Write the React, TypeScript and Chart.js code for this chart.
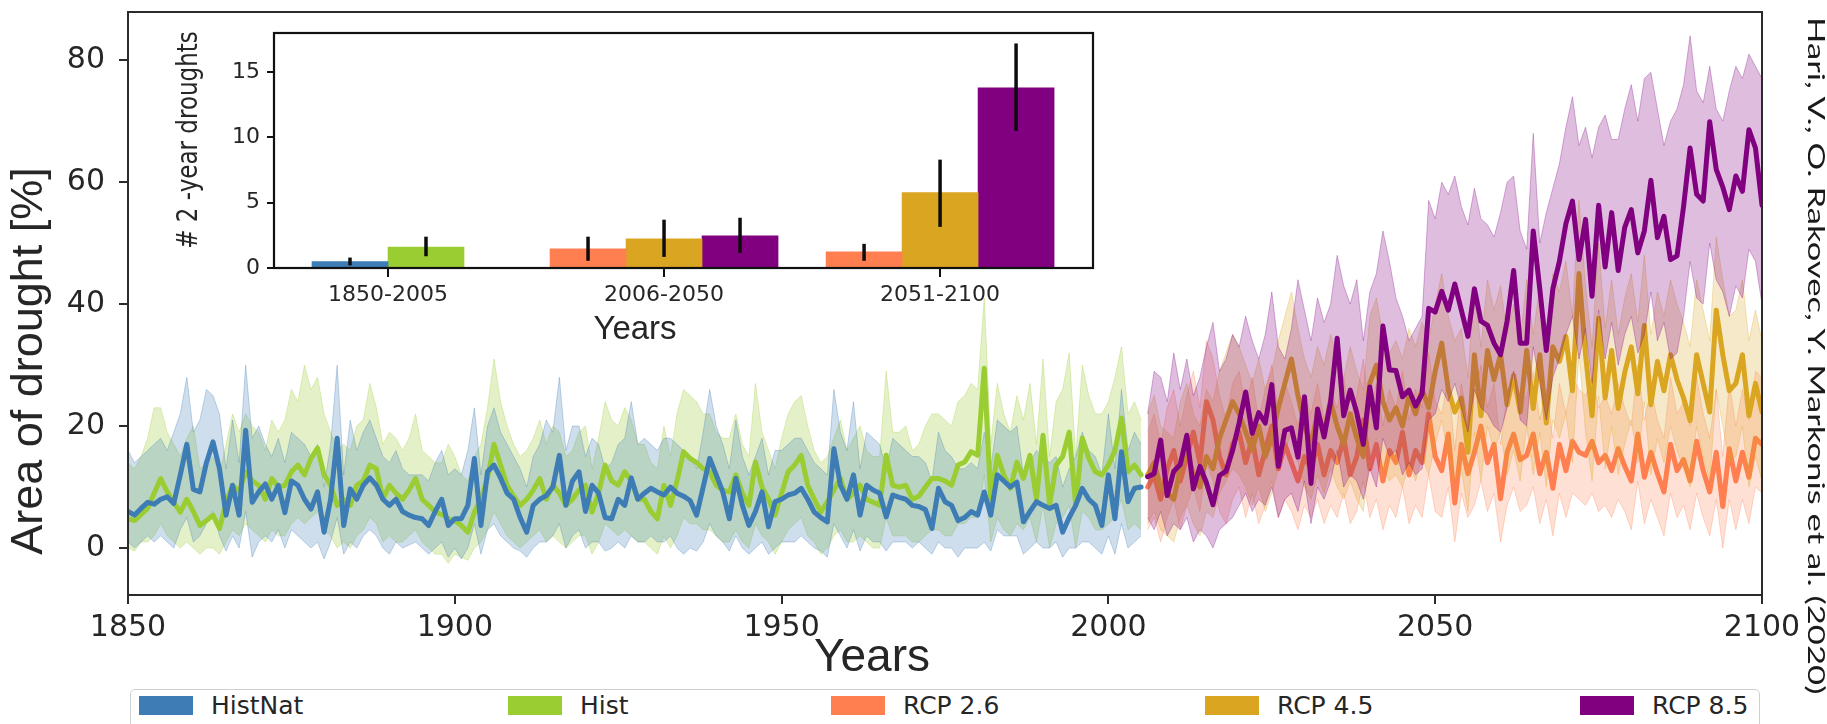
import React, { useEffect, useRef, useState } from 'react';
import { Chart, registerables } from 'chart.js';

Chart.register(...registerables);

// ---------------- DATA ----------------
const HIST_START = 1850;
const RCP_START = 2006;
const X_TICKS = [1850, 1900, 1950, 2000, 2050, 2100];
const Y_TICKS = [0, 20, 40, 60, 80];

const SERIES_NAMES = ['HistNat', 'Hist', 'RCP 2.6', 'RCP 4.5', 'RCP 8.5'];
const SERIES_COLORS = ['#3d7cb5', '#9acd32', '#ff7f50', '#daa520', '#800080'];

// HistNat 1850-2005
const HISTNAT_MEAN = [
  6, 5.4, 6.5, 7.5, 7.2, 8, 8.4, 7.3, 12, 17,
  9.6, 9.2, 14, 17.4, 13, 5.4, 10.3, 5.4, 19.3, 7.5,
  9.2, 10.5, 8, 10.3, 5.8, 11, 10.3, 8, 6.4, 9.2,
  2.6, 8, 18, 3.7, 9.7, 8, 10.3, 11.5, 10.3, 8,
  7, 8, 6, 5.4, 5, 4.8, 3.7, 6, 8, 3.7,
  4.8, 4.8, 7, 14.7, 3.7, 12.5, 13.6, 11.5, 9, 8,
  5, 2.6, 7, 8, 8.6, 10, 15.2, 7, 11, 12.5,
  6, 10.3, 9, 5, 4.8, 8, 7, 11.5, 8, 9,
  9.8, 9.2, 8.7, 10, 9, 8.5, 7.8, 5.4, 10, 14.7,
  12, 9.2, 4.8, 11.4, 7, 3.7, 6, 9.2, 3.5, 7.6,
  8, 8.7, 9, 9.8, 8, 5.9, 5, 4.3, 16.3, 10.3,
  8, 12, 5.4, 10.3, 9.5, 9, 5.1, 8.7, 8.3, 8,
  7, 6.8, 6.3, 3.2, 9.8, 7.6, 7, 4.5, 5, 6,
  5.4, 9.2, 5.4, 12, 11, 10, 10.8, 4.3, 6, 7.6,
  7, 6.5, 7, 2.6, 5, 7, 9.8, 8, 7, 3.7,
  12, 4.8, 15.8, 7.6, 9.8, 10,
];
const HISTNAT_HIGH = [
  16, 14, 15, 16, 17, 18, 16, 19, 22, 28,
  19, 21, 26, 25, 22, 13, 21, 14, 30, 18,
  20, 17, 15, 18, 14, 19, 18, 17, 15, 17,
  10, 17, 30, 12, 21, 16, 19, 21, 18, 15,
  14, 16, 13, 12, 12, 12, 11, 14, 16, 12,
  13, 12, 16, 23, 12, 20, 23, 19, 17, 15,
  13, 10, 15, 17, 21, 19, 28, 16, 20, 20,
  15, 18, 17, 13, 14, 17, 18, 24, 17, 18,
  17, 16, 18, 18, 17, 16, 15, 13, 19, 26,
  20, 17, 13, 21, 15, 12, 15, 18, 12, 16,
  16, 17, 18, 18, 16, 14, 13, 12, 26, 19,
  16, 24, 13, 19, 18, 17, 13, 18, 17, 16,
  15, 15, 14, 11, 19, 16, 15, 13, 13, 14,
  13, 19, 13, 21, 20, 19, 20, 12, 14, 16,
  15, 14, 15, 10, 13, 15, 19, 16, 15, 12,
  22, 13, 26, 16, 19, 17,
];
const HISTNAT_LOW = [
  1, 0, 1, 2, 1, 2, 1, 0, 3, 5,
  1, 2, 4, 6, 2, -0.5, 2, 0, 6, -1.5,
  1, 2, 1, 3, 0, 3, 2, 1, 0, 1,
  -1.8, 1, 5, -1, 1, 0, 2, 3, 2, 0,
  -1, 1, 0, 0.5, 1, 0, -1, 0, 1, -1.5,
  0, -1.8, 0, 4, -1, 3, 4, 2, 1, 0,
  -0.5, -1.5, 0, 1, 1, 2, 4, 0, 2, 3,
  0, 1, 1, -0.5, 0, 1, 0, 2, 1, 1,
  2, 1, 1, 2, 0, -1, 0, -0.5, 1, 4,
  2, 1, -0.5, 2, 0, -1, 0, 1, -1, 0,
  1, 1, 1, 2, 1, 0, -0.5, -1.5, 4, 2,
  0, 3, -0.5, 2, 1, 1, -0.5, 1, 1, 1,
  0, 1, 0, -1, 1, 0, 0, -1.5, 0, 0,
  0, 1, -0.5, 3, 2, 2, 2, -1, 0, 1,
  0, 0, 1, -1.5, 0, 0, 1, 1, 0, -1,
  2, -1, 4, 0, 1, 2,
];

// Hist 1850-2005
const HIST_MEAN = [
  4.8, 4.5, 5.5, 6.5, 9, 11.4, 9.2, 7.5, 5.9, 8,
  6, 3.7, 4.5, 5.4, 3.2, 7.5, 10.3, 9.2, 12.5, 11,
  10.3, 8, 11.4, 10, 10.3, 12.5, 13.6, 12, 14.7, 16.4,
  12, 10.3, 7, 8, 7, 10.3, 11, 13.6, 13, 8,
  10.3, 9, 8, 9.5, 11.4, 8, 7, 5.9, 5.5, 4.8,
  4.5, 3.7, 2.6, 5.9, 8, 11.4, 17, 13.6, 10.3, 8.5,
  7, 8, 9.5, 11.4, 8, 10.3, 9, 7, 8, 9.5,
  10.3, 5.9, 9, 13.6, 11, 10.3, 12.5, 11, 8, 8,
  6, 4.8, 10.3, 7, 11, 15.8, 14.7, 14, 13, 12.5,
  10.3, 9.5, 9.2, 12, 9, 7, 14.1, 10, 8, 5.4,
  9, 12.5, 13.6, 15.2, 10.3, 8, 5.9, 7.6, 9.5, 11.4,
  8, 9, 10.3, 8, 7.5, 7, 15.2, 10.3, 10, 10.3,
  8, 8.5, 10, 11.4, 11.4, 11, 10.3, 13.6, 14.1, 15.8,
  15.2, 29.5, 8, 15.2, 12, 9.8, 14.1, 11.4, 15.2, 8,
  18.5, 7, 13.6, 15, 19, 7, 18, 14.7, 12.5, 12,
  13.6, 16, 21.3, 12.5, 13.6, 12,
];
const HIST_HIGH = [
  14, 13, 15, 18, 23, 23, 19, 17, 15, 18,
  20, 13, 14, 15, 12, 17, 22, 19, 22, 20,
  19, 16, 21, 19, 21, 26, 24, 30, 26, 28,
  22, 19, 16, 17, 16, 20, 21, 27, 23, 17,
  19, 18, 16, 18, 22, 16, 15, 14, 14, 17,
  15, 12, 11, 15, 17, 23, 31, 24, 20, 17,
  15, 16, 18, 21, 17, 20, 19, 15, 16, 19,
  20, 13, 18, 24, 21, 20, 23, 21, 17, 17,
  14, 13, 20, 15, 22, 26, 25, 24, 22, 22,
  19, 18, 18, 22, 17, 15, 27, 19, 16, 13,
  18, 22, 24, 25, 20, 16, 14, 15, 18, 21,
  16, 18, 20, 16, 15, 15, 29, 19, 19, 20,
  16, 17, 20, 22, 22, 21, 20, 24, 25, 27,
  26, 41, 17, 27, 22, 19, 25, 21, 27, 17,
  31, 15, 24, 26, 32, 15, 30, 25, 22, 22,
  24, 28, 33, 22, 24, 21,
];
const HIST_LOW = [
  0, -0.5, 1, 1, 2, 4, 2, 1, 0, 1,
  0, -1, 0, 0, -1, 1, 3, 2, 4, 3,
  2, 1, 3, 2, 2, 4, 5, 4, 5, 6,
  3, 2, 0, 1, 0, 2, 3, 5, 4, 1,
  2, 1, 1, 2, 3, 1, 0, -1, -1, -2.5,
  -1, -1.5, -2, 0, 1, 3, 6, 4, 2, 1,
  0, 1, 2, 3, 1, 2, 1, 0, 1, 2,
  2, -1, 1, 4, 3, 2, 3, 2, 1, 1,
  0, -1, 2, 0, 2, 5, 4, 4, 3, 3,
  2, 1, 1, 3, 1, 0, 4, 2, 1, -1,
  1, 3, 4, 5, 2, 1, -1, 0, 2, 3,
  1, 1, 2, 1, 0, 0, 5, 2, 2, 2,
  1, 1, 2, 3, 3, 2, 2, 4, 4, 5,
  5, 12, 1, 5, 3, 2, 4, 3, 5, 1,
  7, 0, 4, 5, 7, 0, 6, 5, 3, 3,
  4, 5, 8, 3, 4, 3,
];

// RCP 2.6 2006-2100
const RCP26_MEAN = [
  10, 12, 8, 13,
  16, 11, 15, 19, 14, 24, 21, 15, 12, 17,
  19, 14, 18, 12, 16, 20, 13, 17, 14, 11,
  15, 13, 17, 12, 16, 14, 18, 12, 15, 21,
  13, 17, 11, 16, 14, 19, 12, 16, 14, 22,
  15, 12.7, 18.7, 7.4, 17, 12.2, 15.7, 20, 14, 17,
  8.1, 15.7, 18.7, 14.5, 15.2, 18.7, 12.2, 15.7, 9.8, 17,
  12.7, 17.5, 15.7, 15.2, 17.5, 14, 15.2, 12.7, 16.3, 13.4,
  11, 18.7, 11.6, 15.7, 12.2, 9.2, 17, 12.7, 14.5, 11,
  17.5, 12.7, 9.2, 15.7, 6.8, 16.3, 11, 15.7, 11.6, 18,
  17,
];
const RCP26_HIGH = [
  19, 22, 17, 23,
  26, 20, 25, 29, 23, 34, 31, 25, 21, 27,
  29, 23, 28, 21, 26, 30, 22, 27, 24, 20,
  25, 22, 27, 21, 26, 23, 28, 21, 25, 31,
  22, 27, 20, 26, 23, 29, 21, 26, 23, 32,
  24, 22, 28, 16, 27, 21, 25, 30, 23, 27,
  17, 25, 29, 24, 25, 29, 21, 26, 18, 27,
  22, 28, 26, 25, 28, 23, 25, 22, 27, 23,
  20, 30, 21, 26, 21, 18, 28, 22, 24, 20,
  28, 22, 18, 26, 15, 27, 20, 26, 21, 29,
  28,
];
const RCP26_LOW = [
  3, 5, 1, 5,
  8, 3, 7, 10, 6, 14, 11, 6, 4, 8,
  10, 5, 9, 4, 7, 11, 5, 8, 6, 3,
  7, 5, 8, 4, 7, 5, 9, 4, 6, 11,
  5, 8, 3, 7, 5, 10, 4, 7, 5, 12,
  6, 5, 10, 1, 9, 5, 7, 11, 6, 9,
  1, 7, 10, 6, 7, 10, 4, 8, 2, 9,
  5, 9, 8, 7, 9, 6, 7, 5, 8, 6,
  3, 11, 4, 8, 5, 2, 9, 5, 7, 3,
  9, 5, 2, 8, 0, 8, 3, 8, 4, 10,
  9,
];

// RCP 4.5 2006-2100
const RCP45_MEAN = [
  12, 14, 10, 9,
  8, 13, 16, 12, 10, 15, 13, 18, 21, 24,
  22, 19, 16, 20, 15, 18, 23, 27, 31, 25,
  20, 17, 22, 19, 24, 20, 17, 22, 18, 15,
  27, 30, 24, 21, 23, 20, 25, 22, 26, 23,
  29, 33.6, 26, 22.3, 24.6, 15.7, 31.7, 21.7, 32.4, 27.6,
  31.7, 23.5, 28.3, 22.3, 32.4, 22.9, 31.7, 20.5, 33, 30.6,
  34.7, 25.8, 45, 31.7, 21.7, 37.7, 24.6, 32.4, 22.9, 28.8,
  33, 25.3, 36.5, 23.5, 30.6, 25.8, 31.7, 27.6, 24.6, 20.9,
  31.7, 27, 22.3, 39, 31.7, 25.8, 27, 31.7, 21.7, 27,
  22.3,
];
const RCP45_HIGH = [
  22, 25, 20, 19,
  18, 24, 27, 22, 20, 26, 24, 29, 32, 35,
  33, 30, 27, 31, 26, 29, 34, 38, 42, 36,
  31, 28, 33, 30, 35, 31, 28, 33, 29, 26,
  38, 41, 35, 32, 34, 31, 36, 33, 37, 34,
  40, 45, 38, 34, 36, 28, 43, 33, 44, 39,
  43, 35, 40, 34, 44, 35, 43, 32, 45, 42,
  47, 38, 57, 43, 33, 50, 36, 44, 35, 41,
  45, 37, 48, 35, 42, 38, 44, 40, 37, 33,
  44, 39, 34, 51, 44, 38, 39, 44, 34, 39,
  34,
];
const RCP45_LOW = [
  4, 6, 3, 2,
  1, 5, 7, 4, 2, 6, 5, 9, 11, 13,
  12, 10, 7, 10, 6, 9, 13, 16, 19, 14,
  10, 8, 12, 9, 13, 10, 8, 11, 8, 6,
  15, 18, 13, 11, 12, 10, 14, 11, 15, 12,
  17, 21, 15, 11, 13, 6, 19, 11, 20, 16,
  19, 12, 16, 11, 20, 12, 19, 10, 21, 18,
  22, 14, 32, 19, 11, 25, 13, 20, 12, 17,
  21, 14, 24, 12, 18, 14, 20, 16, 13, 10,
  20, 15, 11, 26, 20, 14, 15, 20, 10, 15,
  11,
];

// RCP 8.5 2006-2100
const RCP85_MEAN = [
  11.7, 12.2, 17.7, 8.6,
  12.6, 13.7, 18.5, 9.7, 13.4, 10.7, 7.1, 11.9, 12.6, 16,
  20.5, 25.6, 18.8, 22.2, 20.5, 26.8, 13.4, 19.3, 19.7, 14.9,
  24.8, 10.6, 22.8, 18.2, 24, 34.4, 21.7, 25.9, 22.2, 17,
  26.4, 19.7, 36.4, 29.2, 29.1, 24.8, 25.9, 23.3, 25.3, 39.3,
  38.7, 42.1, 39, 43.3, 39, 34.7, 42.5, 37.2, 36.5, 33.6,
  31.7, 37.2, 45.5, 33.6, 33.6, 52, 42.5, 32.4, 42.5, 47,
  53.2, 56.9, 47.3, 53.9, 41.3, 56.2, 46.1, 55, 45.5, 52.6,
  55.5, 48.4, 52, 60.3, 50.9, 54.4, 47.3, 47.9, 56, 65.6,
  58, 56.9, 69.9, 62.1, 59.2, 55.5, 61, 58.5, 68.6, 65.6,
  56.2,
];
const RCP85_HIGH = [
  22, 29, 28, 24,
  32, 26, 31, 25, 28, 33, 37, 29, 31, 35,
  33, 38, 34, 31, 35, 42, 33, 31, 36, 44,
  39, 34, 41, 37, 40, 48, 43, 40, 44, 34,
  42, 45, 52, 47, 41, 38, 34, 36, 38, 57,
  54, 60, 58, 61, 56, 53, 59, 54, 53, 51,
  55, 60, 61, 52, 49, 68, 50, 55, 59, 63,
  69, 74, 66, 69, 64, 69, 71, 67, 67, 72,
  76, 70, 77, 78, 72, 66, 70, 72, 76, 84,
  75, 73, 79, 72, 70, 75, 79, 77, 81, 79,
  77,
];
const RCP85_LOW = [
  5, 3, 6, 2,
  4, 3, 5, 1, 3, 2, 0, 3, 4, 5,
  7, 9, 6, 8, 7, 10, 5, 8, 9, 6,
  11, 4, 10, 8, 11, 16, 10, 12, 11, 8,
  13, 10, 18, 15, 16, 12, 14, 12, 13, 21,
  22, 26, 24, 27, 23, 19, 26, 23, 22, 20,
  19, 23, 29, 21, 20, 33, 27, 21, 28, 31,
  35, 38, 31, 36, 27, 39, 31, 37, 30, 35,
  38, 32, 35, 42, 34, 37, 31, 32, 38, 47,
  41, 40, 50, 44, 42, 38, 43, 41, 49, 47,
  40,
];

// Inset: number of 2-year droughts
const INSET_LABELS = ['1850-2005', '2006-2050', '2051-2100'];
const INSET_POS = [0, 1, 2];
const INSET_TICKS = [0, 5, 10, 15];
const BAR_HISTNAT = [0.5, null, null];
const BAR_HISTNAT_LO = [0.2, null, null];
const BAR_HISTNAT_HI = [0.8, null, null];
const BAR_HIST = [1.6, null, null];
const BAR_HIST_LO = [0.9, null, null];
const BAR_HIST_HI = [2.4, null, null];
const BAR_RCP26 = [null, 1.46, 1.23];
const BAR_RCP26_LO = [null, 0.55, 0.55];
const BAR_RCP26_HI = [null, 2.4, 1.85];
const BAR_RCP45 = [null, 2.23, 5.77];
const BAR_RCP45_LO = [null, 0.85, 3.15];
const BAR_RCP45_HI = [null, 3.7, 8.3];
const BAR_RCP85 = [null, 2.46, 13.8];
const BAR_RCP85_LO = [null, 1.15, 10.5];
const BAR_RCP85_HI = [null, 3.85, 17.2];

const CITATION = 'Hari, V., O. Rakovec, Y. Markonis et al. (2020)';

// ---------------- HELPERS ----------------
const W = 1827;
const H = 724;
const TEXT_COLOR = '#262626';
const FRAME_COLOR = '#2b2b2b';

function rgba(hex: string, a: number) {
  const n = parseInt(hex.slice(1), 16);
  return `rgba(${(n >> 16) & 255},${(n >> 8) & 255},${n & 255},${a})`;
}
function toPoints(start: number, vals: (number | null)[]) {
  return vals.map((v, i) => ({ x: start + i, y: v }));
}
// keep Chart.js from adding label-overflow padding around the plot area
function zeroScalePadding(s: any) {
  s.paddingTop = 0;
  s.paddingBottom = 0;
  s.paddingLeft = 0;
  s.paddingRight = 0;
}

type TextItem = { text: string; x: number; y: number; font: string; rotate?: number; sx?: number };
function makeTextPlugin(id: string, items: TextItem[]) {
  return {
    id,
    afterDraw(chart: any) {
      const ctx = chart.ctx;
      for (const t of items) {
        ctx.save();
        ctx.translate(t.x, t.y);
        if (t.sx) ctx.scale(t.sx, 1);
        if (t.rotate) ctx.rotate(t.rotate);
        ctx.font = t.font;
        ctx.fillStyle = TEXT_COLOR;
        ctx.textAlign = 'center';
        ctx.textBaseline = 'middle';
        ctx.fillText(t.text, 0, 0);
        ctx.restore();
      }
    },
  };
}
function makeFramePlugin(id: string, color: string, width: number, fillWhite: boolean) {
  return {
    id,
    beforeDraw(chart: any) {
      if (!fillWhite) return;
      const { left, top, right, bottom } = chart.chartArea;
      const ctx = chart.ctx;
      ctx.save();
      ctx.fillStyle = '#ffffff';
      ctx.fillRect(left, top, right - left, bottom - top);
      ctx.restore();
    },
    afterDraw(chart: any) {
      const { left, top, right, bottom } = chart.chartArea;
      const ctx = chart.ctx;
      ctx.save();
      ctx.strokeStyle = color;
      ctx.lineWidth = width;
      ctx.strokeRect(left, top, right - left, bottom - top);
      ctx.restore();
    },
  };
}

function bandDatasets(start: number, hi: number[], lo: number[], color: string, alpha: number) {
  const common = {
    borderColor: rgba(color, 0.3),
    borderWidth: 1,
    pointRadius: 0,
    tension: 0,
  };
  return [
    { ...common, data: toPoints(start, hi), backgroundColor: rgba(color, alpha), fill: '+1' },
    { ...common, data: toPoints(start, lo), fill: false },
  ];
}
function lineDataset(start: number, vals: number[], color: string) {
  return {
    data: toPoints(start, vals),
    borderColor: color,
    borderWidth: 5,
    pointRadius: 0,
    tension: 0,
    fill: false,
    borderJoinStyle: 'round',
    borderCapStyle: 'round',
  };
}

// ---------------- MAIN CHART ----------------
function MainChart() {
  const ref = useRef<HTMLCanvasElement>(null);
  useEffect(() => {
    if (!ref.current) return;
    const [cNat, cHist, c26, c45, c85] = SERIES_COLORS;
    const datasets: any[] = [
      ...bandDatasets(HIST_START, HIST_HIGH, HIST_LOW, cHist, 0.27),
      ...bandDatasets(HIST_START, HISTNAT_HIGH, HISTNAT_LOW, cNat, 0.25),
      lineDataset(HIST_START, HIST_MEAN, cHist),
      lineDataset(HIST_START, HISTNAT_MEAN, cNat),
      ...bandDatasets(RCP_START, RCP26_HIGH, RCP26_LOW, c26, 0.24),
      lineDataset(RCP_START, RCP26_MEAN, c26),
      ...bandDatasets(RCP_START, RCP45_HIGH, RCP45_LOW, c45, 0.24),
      lineDataset(RCP_START, RCP45_MEAN, c45),
      ...bandDatasets(RCP_START, RCP85_HIGH, RCP85_LOW, c85, 0.26),
      lineDataset(RCP_START, RCP85_MEAN, c85),
    ];
    datasets.forEach((d, i) => (d.order = datasets.length - i));

    const tickFont = { family: 'DejaVu Sans', size: 30 };
    const chart = new Chart(ref.current, {
      type: 'line',
      data: { datasets },
      options: {
        animation: false,
        responsive: false,
        devicePixelRatio: 1,
        layout: { padding: { left: 0, top: 12, right: 65, bottom: 0 } },
        plugins: { legend: { display: false }, tooltip: { enabled: false } },
        scales: {
          x: {
            type: 'linear',
            min: 1850,
            max: 2100,
            afterBuildTicks: (s: any) => {
              s.ticks = X_TICKS.map((v) => ({ value: v }));
            },
            afterFit: (s: any) => {
              s.height = 129;
              zeroScalePadding(s);
            },
            border: { display: false },
            grid: { display: true, drawOnChartArea: false, drawTicks: true, tickLength: 9, color: FRAME_COLOR, lineWidth: 2 },
            ticks: { font: tickFont, color: TEXT_COLOR, padding: 6, maxRotation: 0, autoSkip: false, callback: (v: any) => String(v) },
          },
          y: {
            type: 'linear',
            min: -7.7,
            max: 87.9,
            afterBuildTicks: (s: any) => {
              s.ticks = Y_TICKS.map((v) => ({ value: v }));
            },
            afterFit: (s: any) => {
              s.width = 128;
              zeroScalePadding(s);
            },
            border: { display: false },
            grid: { display: true, drawOnChartArea: false, drawTicks: true, tickLength: 9, color: FRAME_COLOR, lineWidth: 2 },
            ticks: { font: tickFont, color: TEXT_COLOR, padding: 14, callback: (v: any) => String(v) },
          },
        },
      } as any,
      plugins: [
        makeFramePlugin('mainFrame', FRAME_COLOR, 2, false),
        makeTextPlugin('mainTexts', [
          { text: 'Area of drought [%]', x: 30, y: 361, font: '45px "Liberation Sans"', rotate: -Math.PI / 2 },
          { text: 'Years', x: 872, y: 658, font: '46px "Liberation Sans"' },
        ]),
      ],
    });
    return () => chart.destroy();
  }, []);
  return (
    <canvas
      ref={ref}
      width={W}
      height={H}
      style={{ position: 'absolute', left: 0, top: 0, width: W, height: H }}
    />
  );
}

// ---------------- INSET CHART ----------------
const INSET_LEFT = 150;
const INSET_TOP = 20;
const INSET_W = 960;
const INSET_H = 330;

function InsetChart() {
  const ref = useRef<HTMLCanvasElement>(null);
  useEffect(() => {
    if (!ref.current) return;
    const bars = [
      { v: BAR_HISTNAT, lo: BAR_HISTNAT_LO, hi: BAR_HISTNAT_HI },
      { v: BAR_HIST, lo: BAR_HIST_LO, hi: BAR_HIST_HI },
      { v: BAR_RCP26, lo: BAR_RCP26_LO, hi: BAR_RCP26_HI },
      { v: BAR_RCP45, lo: BAR_RCP45_LO, hi: BAR_RCP45_HI },
      { v: BAR_RCP85, lo: BAR_RCP85_LO, hi: BAR_RCP85_HI },
    ];
    const datasets = bars.map((b, k) => ({
      label: SERIES_NAMES[k],
      data: INSET_POS.map((x, i) => ({ x, y: b.v[i] })),
      backgroundColor: SERIES_COLORS[k],
      borderWidth: 0,
      barThickness: 76,
      grouped: true,
      skipNull: true,
    }));
    const errorBars = {
      id: 'errorBars',
      afterDatasetsDraw(chart: any) {
        const ctx = chart.ctx;
        const ys = chart.scales.y;
        bars.forEach((b, k) => {
          const meta = chart.getDatasetMeta(k);
          b.v.forEach((val, i) => {
            if (val == null) return;
            const el = meta.data[i];
            if (!el) return;
            ctx.save();
            ctx.strokeStyle = '#0d0d0d';
            ctx.lineWidth = 3.5;
            ctx.beginPath();
            ctx.moveTo(el.x, ys.getPixelForValue(b.lo[i] as number));
            ctx.lineTo(el.x, ys.getPixelForValue(b.hi[i] as number));
            ctx.stroke();
            ctx.restore();
          });
        });
      },
    };
    const tickFont = { family: 'DejaVu Sans', size: 22 };
    const chart = new Chart(ref.current, {
      type: 'bar',
      data: { datasets },
      options: {
        animation: false,
        responsive: false,
        devicePixelRatio: 1,
        layout: { padding: { left: 0, top: 13, right: 17, bottom: 0 } },
        plugins: { legend: { display: false }, tooltip: { enabled: false } },
        scales: {
          x: {
            type: 'linear',
            min: -0.413,
            max: 2.554,
            offset: false,
            afterBuildTicks: (s: any) => {
              s.ticks = INSET_POS.map((v) => ({ value: v }));
            },
            afterFit: (s: any) => {
              s.height = 82;
              zeroScalePadding(s);
            },
            border: { display: false },
            grid: { display: true, offset: false, drawOnChartArea: false, drawTicks: true, tickLength: 9, color: '#111', lineWidth: 2 },
            ticks: { font: tickFont, color: TEXT_COLOR, padding: 5, maxRotation: 0, autoSkip: false, callback: (v: any) => INSET_LABELS[v] ?? '' },
          },
          y: {
            type: 'linear',
            min: 0,
            max: 18,
            afterBuildTicks: (s: any) => {
              s.ticks = INSET_TICKS.map((v) => ({ value: v }));
            },
            afterFit: (s: any) => {
              s.width = 124;
              zeroScalePadding(s);
            },
            border: { display: false },
            grid: { display: true, drawOnChartArea: false, drawTicks: true, tickLength: 7, color: '#111', lineWidth: 2 },
            ticks: { font: tickFont, color: TEXT_COLOR, padding: 7, callback: (v: any) => String(v) },
          },
        },
      } as any,
      plugins: [
        makeFramePlugin('insetFrame', '#111', 2.2, true),
        errorBars,
        makeTextPlugin('insetTexts', [
          { text: '# 2 -year droughts', x: 40, y: 120, font: '23px "DejaVu Sans"', rotate: -Math.PI / 2, sx: 1.2 },
          { text: 'Years', x: 485, y: 310, font: '33px "Liberation Sans"' },
        ]),
      ],
    });
    return () => chart.destroy();
  }, []);
  return (
    <canvas
      ref={ref}
      width={INSET_W}
      height={INSET_H}
      style={{ position: 'absolute', left: INSET_LEFT, top: INSET_TOP, width: INSET_W, height: INSET_H }}
    />
  );
}

// ---------------- LEGEND ----------------
const LEGEND_PATCH_LEFTS = [139, 508, 831, 1205, 1580];

function Legend() {
  return (
    <div>
      <div
        style={{
          position: 'absolute',
          left: 130,
          top: 689,
          width: 1630,
          height: 60,
          border: '1.5px solid #cfcfcf',
          borderRadius: 5,
          background: '#fff',
          boxSizing: 'border-box',
        }}
      />
      {SERIES_NAMES.map((name, i) => (
        <div key={name}>
          <div
            style={{
              position: 'absolute',
              left: LEGEND_PATCH_LEFTS[i],
              top: 696,
              width: 54,
              height: 19,
              background: SERIES_COLORS[i],
            }}
          />
          <div
            style={{
              position: 'absolute',
              left: LEGEND_PATCH_LEFTS[i] + 72,
              top: 696,
              height: 19,
              lineHeight: '19px',
              fontFamily: '"DejaVu Sans"',
              fontSize: 25,
              color: TEXT_COLOR,
              whiteSpace: 'nowrap',
            }}
          >
            {name}
          </div>
        </div>
      ))}
    </div>
  );
}

// ---------------- APP ----------------
const CITE_FONT = 23;
const CITE_LENGTH = 680;

export default function App() {
  const [citeStretch, setCiteStretch] = useState(1);
  useEffect(() => {
    const c = document.createElement('canvas').getContext('2d');
    if (!c) return;
    c.font = `${CITE_FONT}px Lato`;
    const w = c.measureText(CITATION).width;
    if (w > 0) setCiteStretch(CITE_LENGTH / w);
  }, []);
  return (
    <div
      style={{
        position: 'fixed',
        left: 0,
        top: 0,
        width: W,
        height: H,
        overflow: 'hidden',
        background: '#fff',
      }}
    >
      <MainChart />
      <InsetChart />
      <Legend />
      <div
        style={{
          position: 'absolute',
          left: 1824 + 0.17 * CITE_FONT,
          top: 17,
          transformOrigin: '0 0',
          transform: `rotate(90deg) scaleX(${citeStretch})`,
          fontFamily: 'Lato',
          fontSize: CITE_FONT,
          lineHeight: 1,
          whiteSpace: 'nowrap',
          color: '#1a1a1a',
        }}
      >
        {CITATION}
      </div>
    </div>
  );
}
